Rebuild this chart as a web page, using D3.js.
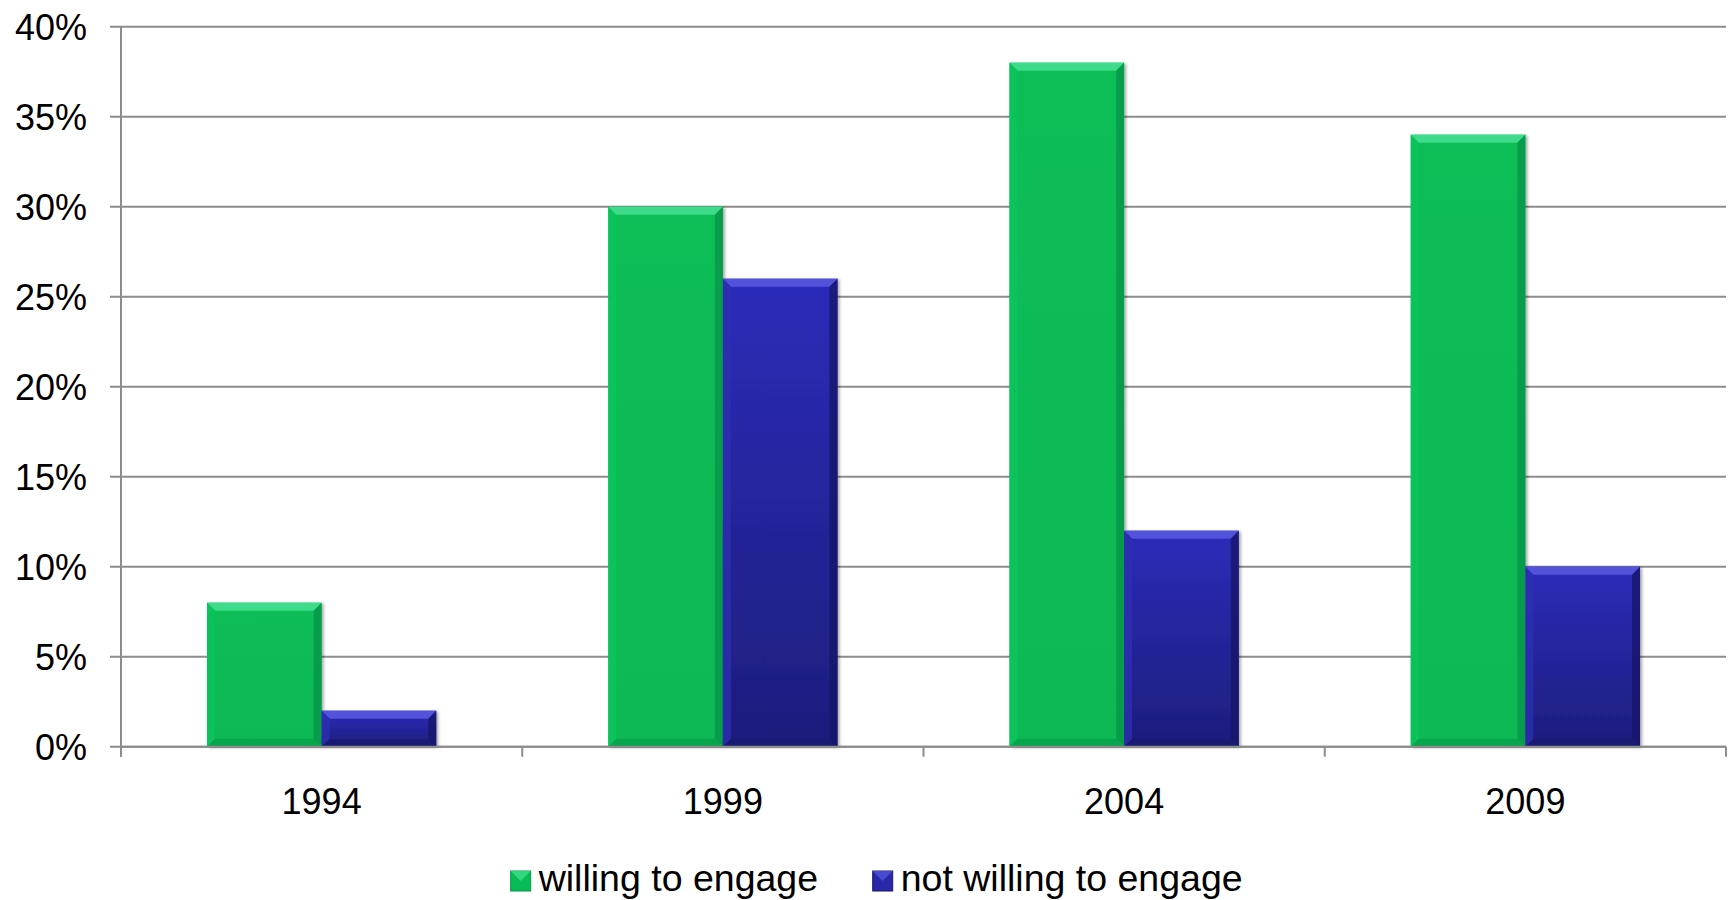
<!DOCTYPE html>
<html>
<head>
<meta charset="utf-8">
<script src="https://cdn.jsdelivr.net/npm/d3@7"></script>
<style>
  html, body { margin: 0; padding: 0; background: #fff; }
  svg { display: block; }
  text { font-family: "Liberation Sans", Arial, sans-serif; fill: #000; }
</style>
</head>
<body>
<svg id="chart" width="1730" height="900"></svg>
<script>
const categories = ["1994", "1999", "2004", "2009"];
const seriesNames = ["willing to engage", "not willing to engage"];
const willing = [8, 30, 38, 34];
const notWilling = [2, 26, 12, 10];
const yTicks = [0, 5, 10, 15, 20, 25, 30, 35, 40];

(function () {
const svg = d3.select("#chart");
const pLeft = 121, pRight = 1726, pTop = 26.7, pBottom = 746.7;

const x0 = d3.scaleBand().domain(categories).range([pLeft, pRight]).padding(0);
const x1 = d3.scaleBand().domain(seriesNames).range([0, x0.bandwidth()]).paddingInner(0).paddingOuter(0.75);
const y = d3.scaleLinear().domain([0, 40]).range([pBottom, pTop]);

const defs = svg.append("defs");
const sh = defs.append("filter").attr("id", "shadow").attr("x", "-10%").attr("y", "-10%").attr("width", "130%").attr("height", "130%");
sh.append("feDropShadow").attr("dx", 2).attr("dy", 1).attr("stdDeviation", 1.6).attr("flood-color", "#000").attr("flood-opacity", 0.35);

const gBlue = defs.append("linearGradient").attr("id", "gBlue").attr("x1", 0).attr("y1", 0).attr("x2", 0).attr("y2", 1);
gBlue.append("stop").attr("offset", "0%").attr("stop-color", "#2C2CBA");
gBlue.append("stop").attr("offset", "100%").attr("stop-color", "#1D1D7C");
const gGreen = defs.append("linearGradient").attr("id", "gGreen").attr("x1", 0).attr("y1", 0).attr("x2", 0).attr("y2", 1);
gGreen.append("stop").attr("offset", "0%").attr("stop-color", "#07BD57");
gGreen.append("stop").attr("offset", "100%").attr("stop-color", "#07B954");

const styles = {
  "willing to engage": { fill: "url(#gGreen)", topB: "#3EDC8A", leftB: "#0BC45C", rightB: "#06954A", botB: "#079E49", sw: "#07BB55" },
  "not willing to engage": { fill: "url(#gBlue)", topB: "#5252DA", leftB: "#2E2EB0", rightB: "#17176A", botB: "#1A1A70", sw: "#2828A8" }
};

// gridlines + y ticks
svg.append("g").selectAll("line").data(yTicks).join("line")
  .attr("x1", pLeft - 11).attr("x2", pRight)
  .attr("y1", d => y(d)).attr("y2", d => y(d))
  .attr("stroke", "#8C8C8C").attr("stroke-width", 2);

// y labels
svg.append("g").selectAll("text").data(yTicks).join("text")
  .attr("x", 87).attr("y", d => y(d)).attr("dy", "0.36em")
  .attr("text-anchor", "end").attr("font-size", 36)
  .text(d => d + "%");

// bars
const data = categories.map((c, i) => ({ cat: c, vals: [
  { s: seriesNames[0], v: willing[i] }, { s: seriesNames[1], v: notWilling[i] }] }));

const groups = svg.append("g").selectAll("g").data(data).join("g")
  .attr("transform", d => `translate(${x0(d.cat)},0)`);

const pts = arr => arr.map(p => p.join(",")).join(" ");
groups.selectAll("g.bar").data(d => d.vals).join("g").attr("class", "bar")
  .each(function (d) {
    const g = d3.select(this);
    const bx = x1(d.s), bw = x1.bandwidth();
    const by = y(d.v), bh = y(0) - y(d.v);
    const st = styles[d.s];
    const b = Math.min(8, bh / 2);
    g.append("rect").attr("x", bx).attr("y", by).attr("width", bw).attr("height", bh)
      .attr("fill", st.fill).attr("filter", "url(#shadow)");
    g.append("polygon").attr("points", pts([[bx, by], [bx + bw, by], [bx + bw - b, by + b], [bx + b, by + b]]))
      .attr("fill", st.topB);
    g.append("polygon").attr("points", pts([[bx, by], [bx + b, by + b], [bx + b, by + bh - b], [bx, by + bh]]))
      .attr("fill", st.leftB).attr("opacity", 0.8);
    g.append("polygon").attr("points", pts([[bx + bw, by], [bx + bw, by + bh], [bx + bw - b, by + bh - b], [bx + bw - b, by + b]]))
      .attr("fill", st.rightB).attr("opacity", 0.8);
    g.append("polygon").attr("points", pts([[bx, by + bh], [bx + b, by + bh - b], [bx + bw - b, by + bh - b], [bx + bw, by + bh]]))
      .attr("fill", st.botB).attr("opacity", 0.7);
  });

// axes
svg.append("line").attr("x1", pLeft).attr("x2", pLeft).attr("y1", pTop).attr("y2", pBottom + 10)
  .attr("stroke", "#8C8C8C").attr("stroke-width", 2);
svg.append("line").attr("x1", pLeft).attr("x2", pRight).attr("y1", pBottom).attr("y2", pBottom)
  .attr("stroke", "#8C8C8C").attr("stroke-width", 2);
const bounds = categories.map(c => x0(c)).concat([x0(categories[categories.length - 1]) + x0.bandwidth()]);
svg.append("g").selectAll("line").data(bounds).join("line")
  .attr("x1", d => d).attr("x2", d => d).attr("y1", pBottom).attr("y2", pBottom + 10)
  .attr("stroke", "#8C8C8C").attr("stroke-width", 2);

// x labels
svg.append("g").selectAll("text").data(categories).join("text")
  .attr("x", d => x0(d) + x0.bandwidth() / 2).attr("y", 814)
  .attr("text-anchor", "middle").attr("font-size", 36)
  .text(d => d);

// legend
const legendX = [510.7, 872.7];
const leg = svg.append("g").selectAll("g").data(seriesNames).join("g")
  .attr("transform", (d, i) => `translate(${legendX[i]},0)`);
leg.append("rect").attr("x", 0).attr("y", 871).attr("width", 20).attr("height", 20)
  .attr("fill", d => styles[d].sw).attr("stroke", d => styles[d].rightB).attr("stroke-width", 1);
leg.append("polygon").attr("points", "0,871 20,871 10,881").attr("fill", d => styles[d].topB).attr("opacity", 0.8);
leg.append("text").attr("x", 28).attr("y", 891).attr("font-size", 37.5).text(d => d);
})();
</script>
</body>
</html>
